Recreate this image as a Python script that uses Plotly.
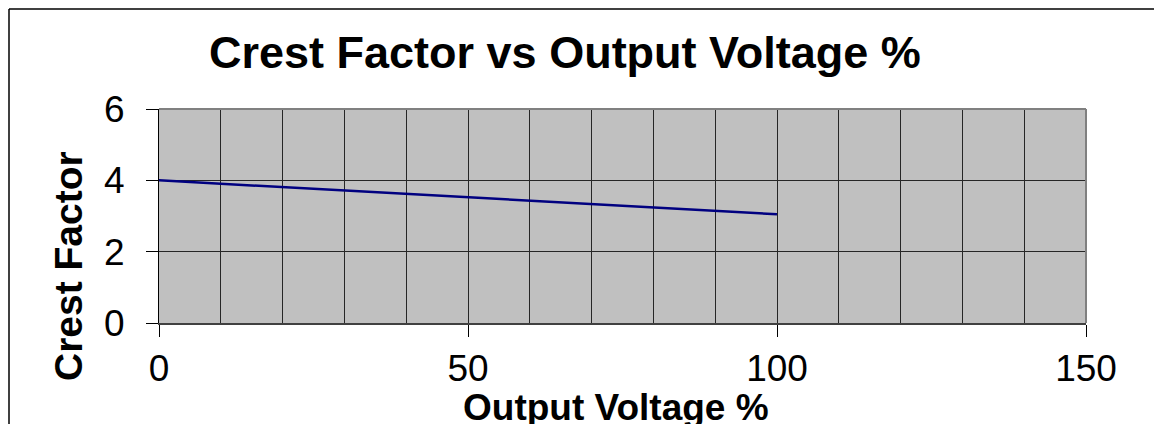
import plotly.graph_objects as go

# Data
output_voltage_pct = [0, 100]
crest_factor = [4.0, 3.05]

x_ticks = [0, 50, 100, 150]
y_ticks = [0, 2, 4, 6]

title_text = "Crest Factor vs Output Voltage %"
x_title = "Output Voltage %"
y_title = "Crest Factor"

W, H = 1154, 424
L, R, T, B = 159, 68, 109, 101
PW, PH = W - L - R, H - T - B

def px_x(p):
    return (p - L) / PW

def px_y(p):
    return (H - B - p) / PH

FONT = "Liberation Sans, Arial, sans-serif"

fig = go.Figure()
fig.add_trace(go.Scatter(
    x=output_voltage_pct, y=crest_factor, mode="lines",
    line=dict(color="#000080", width=2.5), showlegend=False, hoverinfo="skip"))

fig.update_layout(
    width=W, height=H,
    margin=dict(l=L, r=R, t=T, b=B),
    paper_bgcolor="white",
    plot_bgcolor="#C0C0C0",
    font=dict(family=FONT, color="black"),
    showlegend=False,
)

fig.update_xaxes(
    range=[0, 150], tickvals=x_ticks, ticktext=[str(v) for v in x_ticks],
    ticks="outside", ticklen=12, tickwidth=1, tickcolor="black",
    tickfont=dict(size=37, family=FONT, color="black"),
    showline=True, linecolor="#404040", linewidth=2,
    showgrid=True, gridcolor="#262626", gridwidth=1,
    minor=dict(dtick=10, showgrid=True, gridcolor="#262626", gridwidth=1, ticks=""),
    zeroline=False, mirror=False,
)
fig.update_yaxes(
    range=[0, 6], tickvals=y_ticks, ticktext=[str(v) for v in y_ticks],
    ticks="outside", ticklen=12, tickwidth=1, tickcolor="black",
    tickfont=dict(size=37, family=FONT, color="black"),
    showline=True, linecolor="black", linewidth=1,
    showgrid=True, gridcolor="#262626", gridwidth=1,
    zeroline=False, mirror=False, ticklabelstandoff=14,
)

# plot border (top/right) in gray
fig.add_shape(type="line", xref="paper", yref="paper", x0=0, x1=1, y0=1, y1=1,
              line=dict(color="#808080", width=2))
fig.add_shape(type="line", xref="paper", yref="paper", x0=1, x1=1, y0=0, y1=1,
              line=dict(color="#808080", width=2))

# outer chart border (left/top visible)
fig.add_shape(type="line", xref="paper", yref="paper",
              x0=px_x(9), x1=px_x(W + 5), y0=px_y(9), y1=px_y(9),
              line=dict(color="black", width=1.5))
fig.add_shape(type="line", xref="paper", yref="paper",
              x0=px_x(9), x1=px_x(9), y0=px_y(9), y1=px_y(H + 5),
              line=dict(color="black", width=1.5))

fig.add_annotation(text="<b>%s</b>" % title_text, xref="paper", yref="paper",
                   x=px_x(564.5), y=px_y(53), xanchor="center", yanchor="middle",
                   showarrow=False, font=dict(size=45, family=FONT, color="black"))
fig.add_annotation(text="<b>%s</b>" % x_title, xref="paper", yref="paper",
                   x=px_x(616), y=px_y(407), xanchor="center", yanchor="middle",
                   showarrow=False, font=dict(size=37, family=FONT, color="black"))
fig.add_annotation(text="<b>%s</b>" % y_title, xref="paper", yref="paper",
                   x=px_x(68), y=px_y(266), xanchor="center", yanchor="middle",
                   textangle=-90, showarrow=False,
                   font=dict(size=39, family=FONT, color="black"))

fig.write_html("out.html", config={"displayModeBar": False},
               post_script="document.body.style.margin='0';document.body.style.overflow='hidden';")
